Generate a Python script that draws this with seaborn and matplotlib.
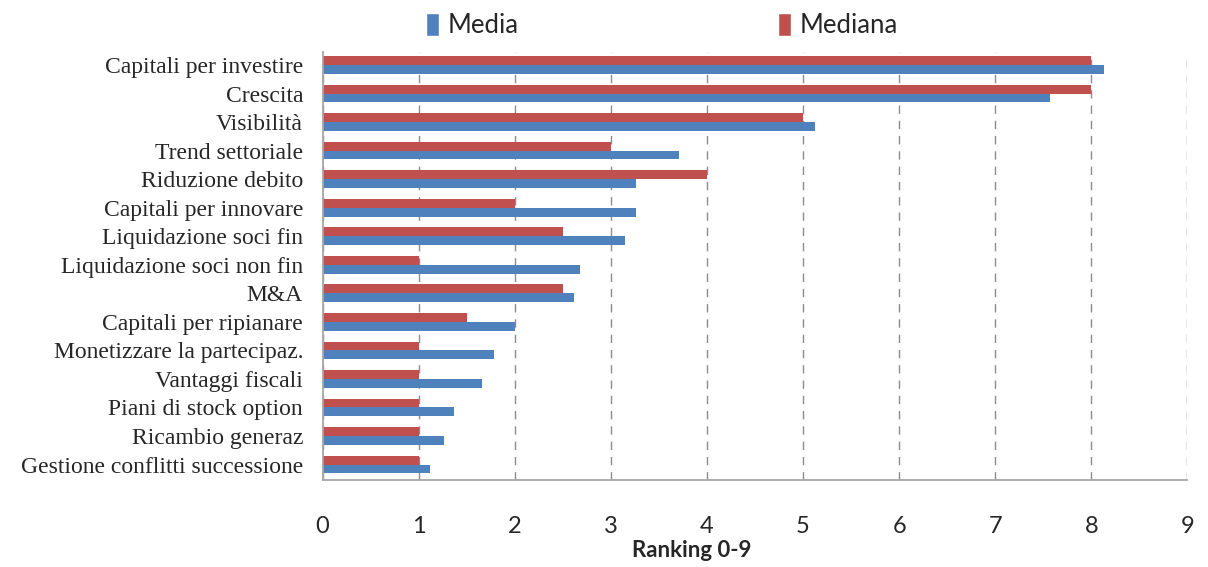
import matplotlib
matplotlib.use("Agg")
import matplotlib.pyplot as plt
import seaborn as sns
import pandas as pd
from matplotlib.patches import Patch

categories = [
    "Capitali per investire", "Crescita", "Visibilità", "Trend settoriale",
    "Riduzione debito", "Capitali per innovare", "Liquidazione soci fin",
    "Liquidazione soci non fin", "M&A", "Capitali per ripianare",
    "Monetizzare la partecipaz.", "Vantaggi fiscali", "Piani di stock option",
    "Ricambio generaz", "Gestione conflitti successione",
]
media = [8.13, 7.57, 5.12, 3.71, 3.26, 3.26, 3.15, 2.68, 2.62, 2.00,
         1.78, 1.66, 1.37, 1.26, 1.12]
mediana = [8, 8, 5, 3, 4, 2, 2.5, 1, 2.5, 1.5, 1, 1, 1, 1, 1]
x_ticks = list(range(0, 10))

blue = "#4F81BD"
red = "#C0504D"

df = pd.DataFrame({
    "Categoria": categories * 2,
    "Valore": mediana + media,
    "Serie": ["Mediana"] * len(categories) + ["Media"] * len(categories),
})

sns.set_style("white")
plt.rcParams["font.family"] = ["Lato", "DejaVu Sans"]

fig = plt.figure(figsize=(12.08, 5.67), dpi=100)
ax = fig.add_axes([0.267, 0.153, 0.716, 0.755])

sns.barplot(data=df, y="Categoria", x="Valore", hue="Serie",
            hue_order=["Mediana", "Media"], palette=[red, blue],
            order=categories, orient="h", width=0.62, saturation=1,
            linewidth=0, legend=False, ax=ax)

ax.set_xlim(0, 9)
ax.set_ylim(len(categories) - 0.45, -0.45)
ax.set_xticks(x_ticks)
ax.set_xticklabels([str(t) for t in x_ticks], fontsize=17)
ax.tick_params(axis="x", length=0, pad=26)
ax.tick_params(axis="y", length=0, pad=14)
for lbl in ax.get_yticklabels():
    lbl.set_fontfamily("Liberation Serif")
    lbl.set_fontsize(17)

ax.set_ylabel("")
ax.set_xlabel("Ranking 0-9", fontsize=16, fontweight="bold")
ax.xaxis.set_label_coords(0.427, -0.14)

ax.xaxis.grid(True, linestyle=(0, (6, 5)), color="#8C8C8C", linewidth=1)
ax.set_axisbelow(True)
for side in ["top", "right"]:
    ax.spines[side].set_visible(False)
for side in ["left", "bottom"]:
    ax.spines[side].set_color("#A6A6A6")
    ax.spines[side].set_linewidth(1.3)

handles = [Patch(facecolor=blue), Patch(facecolor=red)]
fig.legend(handles, ["Media", "Mediana"], loc="center", bbox_to_anchor=(0.548, 0.955),
           ncol=2, frameon=False, fontsize=18.5, handlelength=0.5, handleheight=1.0,
           handletextpad=0.35, columnspacing=10.1)

fig.savefig("out.png", dpi=100)
